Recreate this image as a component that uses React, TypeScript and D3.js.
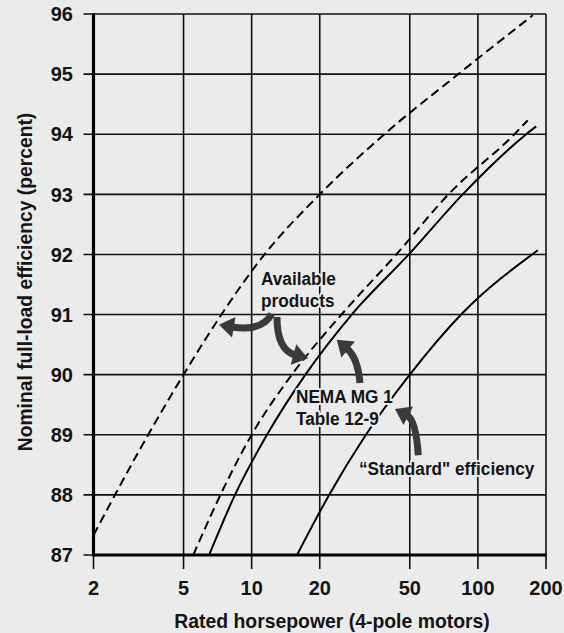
import React from "react";
import * as d3 from "d3";

const xTicks = [2, 5, 10, 20, 50, 100, 200];
const yTicks = [87, 88, 89, 90, 91, 92, 93, 94, 95, 96];

// Available products (upper dashed)
const availHighHp = [2, 3.2, 5, 7.35, 11.4, 20, 38.6, 81.9, 175];
const availHighEff = [87.33, 88.75, 90, 91, 92, 93, 94, 95, 95.98];

// Available products (lower dashed)
const availLowHp = [5.52, 7.28, 10, 15.06, 24.95, 43.6, 74.1, 145, 166];
const availLowEff = [87, 88, 89, 90, 91, 92, 93, 94, 94.23];

// NEMA MG 1 Table 12-9 (solid)
const nemaHp = [6.49, 8.44, 11.69, 17.29, 27.7, 49.5, 85.7, 163.6, 181];
const nemaEff = [87, 88, 89, 90, 91, 92, 93, 94, 94.13];

// "Standard" efficiency (solid)
const stdHp = [15.87, 22, 32, 50, 84.3, 184];
const stdEff = [87, 88, 89, 90, 91, 92.07];

const series = [
  { hp: availHighHp, eff: availHighEff, dashed: true },
  { hp: availLowHp, eff: availLowEff, dashed: true },
  { hp: nemaHp, eff: nemaEff, dashed: false },
  { hp: stdHp, eff: stdEff, dashed: false },
];

// annotations in data coordinates
const labels = [
  { hp: 11.0, eff: 91.49, lines: ["Available", "products"] },
  { hp: 15.7, eff: 89.53, lines: ["NEMA MG 1", "Table 12-9"] },
  { hp: 29.8, eff: 88.33, lines: ["\u201CStandard\" efficiency"] },
];

const arrows = [
  { s: [12.27, 91.01], c: [11.11, 90.71], t: [7.17, 90.83] },
  { s: [12.94, 90.96], c: [12.94, 90.41], t: [17.74, 90.27] },
  { s: [30.12, 89.86], c: [29.5, 90.28], t: [23.77, 90.58] },
  { s: [54.5, 88.66], c: [53.3, 89.25], t: [43.0, 89.43] },
];

const W = 564;
const H = 633;
const BG = "#ebebeb";
const FONT = "'Liberation Sans', Arial, sans-serif";

function CText(props: {
  x: number;
  y: number;
  sx?: number;
  rotate?: number;
  anchor?: string;
  size: number;
  dy?: string;
  halo?: boolean;
  lines: string[];
  lineGap?: number;
}) {
  const { x, y, sx = 1, rotate = 0, anchor = "start", size, dy, halo, lines, lineGap = 22 } = props;
  return (
    <text
      transform={`translate(${x},${y}) rotate(${rotate}) scale(${sx},1)`}
      textAnchor={anchor}
      fontSize={size}
      dy={dy}
      fill="#151515"
      stroke={halo ? BG : undefined}
      strokeWidth={halo ? 4 : undefined}
      strokeLinejoin="round"
      paintOrder="stroke"
    >
      {lines.map((ln, j) => (
        <tspan key={j} x={0} dy={j === 0 ? dy || 0 : lineGap}>
          {ln}
        </tspan>
      ))}
    </text>
  );
}

export default function App() {
  const x = d3.scaleLog().domain([2, 200]).range([93.5, 546]);
  const y = d3.scaleLinear().domain([87, 96]).range([555, 14]);
  const line = d3
    .line<[number, number]>()
    .x((d) => x(d[0]))
    .y((d) => y(d[1]))
    .curve(d3.curveMonotoneX);

  const x0 = x(2);
  const x1 = x(200);
  const yTop = y(96);
  const yBot = y(87);

  const arrowPaths = arrows.map((a) => {
    const S = [x(a.s[0]), y(a.s[1])];
    const C = [x(a.c[0]), y(a.c[1])];
    const T = [x(a.t[0]), y(a.t[1])];
    const dx = T[0] - C[0];
    const dy = T[1] - C[1];
    const len = Math.hypot(dx, dy);
    const ux = dx / len;
    const uy = dy / len;
    const hl = 15;
    const hw = 10.5;
    const B = [T[0] - ux * hl, T[1] - uy * hl];
    const B2 = [B[0] + ux * 2, B[1] + uy * 2];
    const nx = -uy;
    const ny = ux;
    const shaft = `M${S[0]},${S[1]}Q${C[0]},${C[1]} ${B2[0]},${B2[1]}`;
    const head = `M${T[0]},${T[1]}L${B[0] + nx * hw},${B[1] + ny * hw}L${B[0] - nx * hw},${B[1] - ny * hw}Z`;
    return { shaft, head };
  });

  return (
    <div style={{ position: "fixed", left: 0, top: 0, width: W, height: H, background: BG }}>
      <svg width={W} height={H} style={{ display: "block" }} fontFamily={FONT} fontWeight="bold">
        <rect width={W} height={H} fill={BG} />
        {yTicks.map((t) => (
          <line key={"h" + t} x1={x0 - 10} x2={x1} y1={y(t)} y2={y(t)} stroke="#111" strokeWidth={1.6} />
        ))}
        {xTicks.map((t) => (
          <line key={"v" + t} x1={x(t)} x2={x(t)} y1={yTop} y2={yBot + 14} stroke="#111" strokeWidth={1.6} />
        ))}
        <line x1={x0} x2={x0} y1={yTop - 0.8} y2={yBot + 1.5} stroke="#000" strokeWidth={3.2} />
        <line x1={x0} x2={x1 + 0.8} y1={yBot} y2={yBot} stroke="#000" strokeWidth={3.2} />
        {series.map((s, i) => (
          <path
            key={"s" + i}
            d={line(s.hp.map((h, j) => [h, s.eff[j]] as [number, number])) || ""}
            fill="none"
            stroke="#000"
            strokeWidth={2}
            strokeDasharray={s.dashed ? "9,5" : undefined}
          />
        ))}
        {yTicks.map((t) => (
          <CText key={"yl" + t} x={73} y={y(t)} dy="0.36em" anchor="end" size={20} lines={[String(t)]} />
        ))}
        {xTicks.map((t) => (
          <CText key={"xl" + t} x={x(t)} y={yBot + 40} anchor="middle" size={20} lines={[String(t)]} />
        ))}
        <CText x={332} y={628} anchor="middle" size={20} sx={0.97} lines={["Rated horsepower (4-pole motors)"]} />
        <CText
          x={32}
          y={282}
          rotate={-90}
          anchor="middle"
          size={19.3}
          lines={["Nominal full-load efficiency (percent)"]}
        />
        {labels.map((l, i) => (
          <CText key={"lab" + i} x={x(l.hp)} y={y(l.eff)} size={18.5} sx={0.93} halo lines={l.lines} />
        ))}
        {arrowPaths.map((a, i) => (
          <g key={"a" + i}>
            <path d={a.shaft} fill="none" stroke="#3a3a3a" strokeWidth={7} />
            <path d={a.head} fill="#3a3a3a" />
          </g>
        ))}
      </svg>
    </div>
  );
}
